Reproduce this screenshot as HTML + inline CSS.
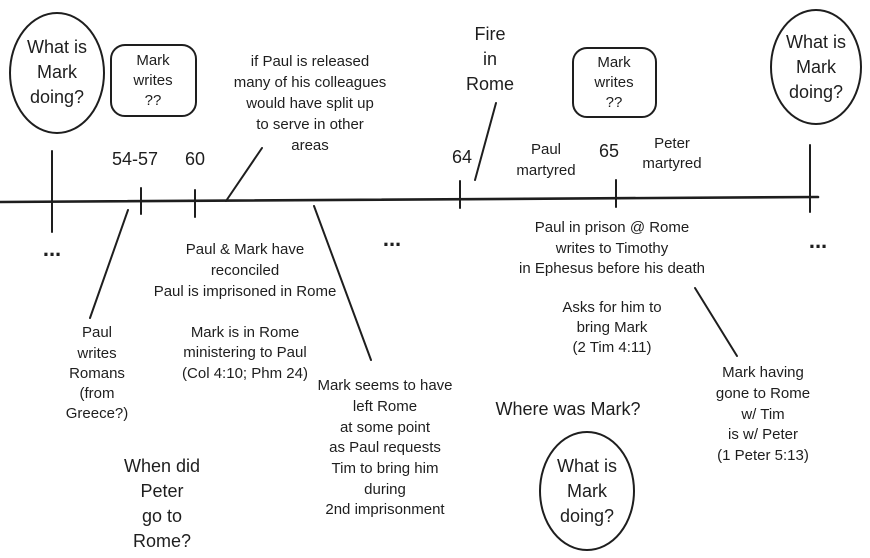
<!DOCTYPE html>
<html><head><meta charset="utf-8"><style>
html,body{margin:0;padding:0;background:#fff;}
svg{display:block}
text{font-family:"Liberation Sans",sans-serif;font-size:15px;fill:#1e1e1e;text-anchor:middle;dominant-baseline:middle}
.b{font-size:18px}
.d{font-size:22px;font-weight:bold}
</style></head><body>
<svg width="870" height="558" viewBox="0 0 870 558" xmlns="http://www.w3.org/2000/svg">
<g stroke="#1e1e1e" stroke-width="2" fill="none" stroke-linecap="round">
<line x1="0" y1="202" x2="818" y2="197" stroke-width="2.6"/>
<line x1="52" y1="151" x2="52" y2="232"/>
<line x1="141" y1="188" x2="141" y2="214"/>
<line x1="195" y1="190" x2="195" y2="217"/>
<line x1="460" y1="181" x2="460" y2="208"/>
<line x1="616" y1="180" x2="616" y2="207"/>
<line x1="810" y1="145" x2="810" y2="212"/>
<line x1="226" y1="201" x2="262" y2="148"/>
<line x1="475" y1="180" x2="496" y2="103"/>
<line x1="90" y1="318" x2="128" y2="210"/>
<line x1="314" y1="206" x2="371" y2="360"/>
<line x1="695" y1="288" x2="737" y2="356"/>
<ellipse cx="57" cy="73" rx="47" ry="60"/>
<ellipse cx="816" cy="67" rx="45" ry="57"/>
<ellipse cx="587" cy="491" rx="47" ry="59"/>
<rect x="111" y="45" width="85" height="71" rx="14"/>
<rect x="573" y="48" width="83" height="69" rx="14"/>
</g>
<text x="57" y="48" class="b">What is</text><text x="57" y="73" class="b">Mark</text><text x="57" y="98" class="b">doing?</text>
<text x="816" y="43" class="b">What is</text><text x="816" y="68" class="b">Mark</text><text x="816" y="93" class="b">doing?</text>
<text x="587" y="467" class="b">What is</text><text x="587" y="492" class="b">Mark</text><text x="587" y="517" class="b">doing?</text>
<text x="153" y="61">Mark</text><text x="153" y="81">writes</text><text x="153" y="101">??</text>
<text x="614" y="63">Mark</text><text x="614" y="83">writes</text><text x="614" y="103">??</text>
<text x="310" y="62">if Paul is released</text><text x="310" y="83">many of his colleagues</text><text x="310" y="104">would have split up</text><text x="310" y="125">to serve in other</text><text x="310" y="146">areas</text>
<text x="490" y="35" class="b">Fire</text><text x="490" y="60" class="b">in</text><text x="490" y="85" class="b">Rome</text>
<text x="135" y="160" class="b">54-57</text><text x="195" y="160" class="b">60</text><text x="462" y="158" class="b">64</text><text x="609" y="152" class="b">65</text>
<text x="546" y="150">Paul</text><text x="546" y="171">martyred</text>
<text x="672" y="144">Peter</text><text x="672" y="164">martyred</text>
<text x="52" y="250" class="d">...</text><text x="392" y="240" class="d">...</text><text x="818" y="242" class="d">...</text>
<text x="245" y="250">Paul &amp; Mark have</text><text x="245" y="271">reconciled</text><text x="245" y="292">Paul is imprisoned in Rome</text>
<text x="245" y="333">Mark is in Rome</text><text x="245" y="353">ministering to Paul</text><text x="245" y="374">(Col 4:10; Phm 24)</text>
<text x="97" y="333">Paul</text><text x="97" y="354">writes</text><text x="97" y="374">Romans</text><text x="97" y="394">(from</text><text x="97" y="414">Greece?)</text>
<text x="612" y="228">Paul in prison @ Rome</text><text x="612" y="249">writes to Timothy</text><text x="612" y="269">in Ephesus before his death</text>
<text x="612" y="308">Asks for him to</text><text x="612" y="328">bring Mark</text><text x="612" y="348">(2 Tim 4:11)</text>
<text x="385" y="386">Mark seems to have</text><text x="385" y="407">left Rome</text><text x="385" y="428">at some point</text><text x="385" y="448">as Paul requests</text><text x="385" y="469">Tim to bring him</text><text x="385" y="490">during</text><text x="385" y="510">2nd imprisonment</text>
<text x="568" y="410" class="b">Where was Mark?</text>
<text x="763" y="373">Mark having</text><text x="763" y="394">gone to Rome</text><text x="763" y="415">w/ Tim</text><text x="763" y="435">is w/ Peter</text><text x="763" y="456">(1 Peter 5:13)</text>
<text x="162" y="467" class="b">When did</text><text x="162" y="492" class="b">Peter</text><text x="162" y="517" class="b">go to</text><text x="162" y="542" class="b">Rome?</text>
</svg>
</body></html>
